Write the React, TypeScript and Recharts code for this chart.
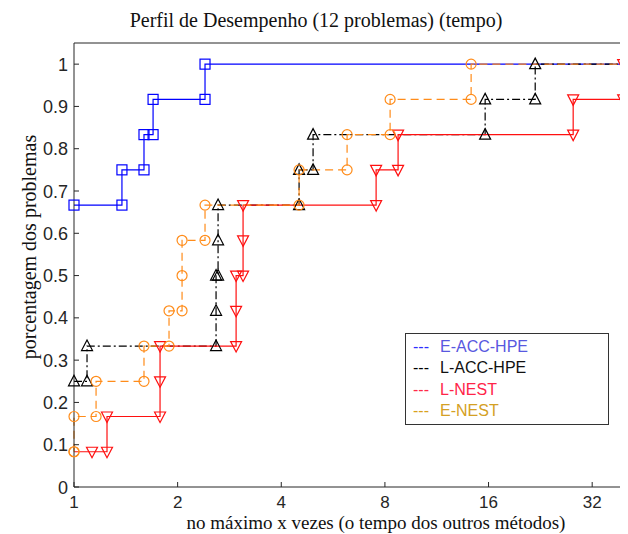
import React from 'react';
import { LineChart, Line, XAxis, YAxis } from 'recharts';

// ---------- data ----------
const NP = 12; // number of problems
const X_MAX_LOG2 = 5.5; // right end of the x axis (log2 of ratio)
const xTickValues = [1, 2, 4, 8, 16, 32];
const yTickValues = [0, 0.1, 0.2, 0.3, 0.4, 0.5, 0.6, 0.7, 0.8, 0.9, 1];

const seriesNames = ['E-ACC-HPE', 'L-ACC-HPE', 'L-NEST', 'E-NEST'];

// performance ratios where each profile steps, and problems solved after the step
const eAccHpeRatios = [1, 1.378, 1.597, 1.697, 2.402];
const eAccHpeSolved = [8, 9, 10, 11, 12];

const lAccHpeRatios = [1, 1.091, 2.586, 2.621, 4.506, 4.948, 15.64, 21.86];
const lAccHpeSolved = [3, 4, 6, 8, 9, 10, 11, 12];

const lNestRatios = [1, 1.128, 1.247, 1.778, 2.957, 3.098, 7.543, 8.737, 28.18, 39.37];
const lNestSolved = [1, 1, 2, 4, 6, 8, 9, 10, 11, 12];

const eNestRatios = [1, 1, 1.159, 1.597, 1.888, 2.06, 2.402, 4.506, 6.212, 8.283, 14.24];
const eNestSolved = [1, 2, 3, 4, 5, 7, 8, 9, 10, 11, 12];

// ---------- build stairs tables ----------
type Pt = { x: number; y: number; mark: boolean };

function buildProfile(ratios: number[], solved: number[], hideFirst = false): Pt[] {
  const pts: Pt[] = [];
  let prev = 0;
  ratios.forEach((r, i) => {
    const x = Math.log2(r);
    const c = solved[i];
    if (i === 0) {
      pts.push({ x, y: c / NP, mark: !hideFirst });
    } else {
      pts.push({ x, y: prev / NP, mark: true });
      for (let k = prev + 1; k <= c; k++) pts.push({ x, y: k / NP, mark: true });
    }
    prev = c;
  });
  pts.push({ x: X_MAX_LOG2, y: prev / NP, mark: false });
  return pts;
}

const eAccHpeData = buildProfile(eAccHpeRatios, eAccHpeSolved);
const lAccHpeData = buildProfile(lAccHpeRatios, lAccHpeSolved);
const lNestData = buildProfile(lNestRatios, lNestSolved, true);
const eNestData = buildProfile(eNestRatios, eNestSolved);

// ---------- styles ----------
const AXIS = '#262626';
const SANS = '"Liberation Sans", Arial, sans-serif';
const SERIF = '"Liberation Serif", "Times New Roman", serif';

const C_BLUE = '#0000ff';
const C_BLACK = '#000000';
const C_RED = '#ff1010';
const C_ORANGE = '#ff8c1a';

type Shape = 'square' | 'up' | 'down' | 'circle';

function makeDot(shape: Shape, color: string) {
  return (props: any) => {
    const { cx, cy, payload, index } = props;
    if (!payload || !payload.mark || cx == null || cy == null) return <g key={`d${index}`} />;
    const common = { fill: 'none', stroke: color, strokeWidth: 1.2 };
    if (shape === 'square')
      return <rect key={`d${index}`} x={cx - 5} y={cy - 5} width={10} height={10} {...common} />;
    if (shape === 'circle') return <circle key={`d${index}`} cx={cx} cy={cy} r={5} {...common} />;
    if (shape === 'up')
      return (
        <polygon
          key={`d${index}`}
          points={`${cx},${cy - 6} ${cx - 5.5},${cy + 4.5} ${cx + 5.5},${cy + 4.5}`}
          {...common}
        />
      );
    return (
      <polygon
        key={`d${index}`}
        points={`${cx},${cy + 6} ${cx - 5.5},${cy - 4.5} ${cx + 5.5},${cy - 4.5}`}
        {...common}
      />
    );
  };
}

function BottomTick(props: any) {
  const { x, y, payload } = props;
  const label = String(Math.round(Math.pow(2, payload.value)));
  return (
    <g>
      <line x1={x} y1={y} x2={x} y2={y - 5} stroke={AXIS} strokeWidth={1} />
      <text x={x} y={y + 21} textAnchor="middle" fontFamily={SANS} fontSize={17} fill={AXIS}>
        {label}
      </text>
    </g>
  );
}

function TopTick(props: any) {
  const { x, y } = props;
  return <line x1={x} y1={y} x2={x} y2={y + 5} stroke={AXIS} strokeWidth={1} />;
}

function LeftTick(props: any) {
  const { x, y, payload } = props;
  const v = payload.value;
  const label = v === 0 ? '0' : v === 1 ? '1' : v.toFixed(1);
  return (
    <g>
      <line x1={x} y1={y} x2={x + 5} y2={y} stroke={AXIS} strokeWidth={1} />
      <text x={x - 6} y={y + 6.5} textAnchor="end" fontFamily={SANS} fontSize={18} fill={AXIS}>
        {label}
      </text>
    </g>
  );
}

const legendItems = [
  { name: seriesNames[0], dash: '#2e2eff', text: '#5858e0' },
  { name: seriesNames[1], dash: '#000000', text: '#111111' },
  { name: seriesNames[2], dash: '#ff2a4a', text: '#ff2448' },
  { name: seriesNames[3], dash: '#d9a21c', text: '#d4a024' },
];

const titleStyle: React.CSSProperties = {
  position: 'absolute',
  whiteSpace: 'nowrap',
  fontFamily: SERIF,
  fontSize: 20,
  lineHeight: '17px',
  color: '#111',
};

export default function App() {
  return (
    <div style={{ position: 'relative', width: 620, height: 526, overflow: 'hidden', background: '#fff' }}>
      <LineChart width={640} height={526} margin={{ top: 5, right: 4, bottom: 7, left: 26 }}>
        <XAxis
          xAxisId={0}
          dataKey="x"
          type="number"
          domain={[0, X_MAX_LOG2]}
          ticks={xTickValues.map((v) => Math.log2(v))}
          tick={<BottomTick />}
          tickLine={false}
          tickSize={0}
          tickMargin={0}
          height={40}
          axisLine={{ stroke: AXIS, strokeWidth: 1 }}
          interval={0}
        />
        <XAxis
          xAxisId="top"
          orientation="top"
          dataKey="x"
          type="number"
          domain={[0, X_MAX_LOG2]}
          ticks={xTickValues.map((v) => Math.log2(v))}
          tick={<TopTick />}
          tickLine={false}
          tickSize={0}
          tickMargin={0}
          height={30}
          axisLine={{ stroke: AXIS, strokeWidth: 1 }}
          interval={0}
        />
        <YAxis
          type="number"
          domain={[0, 1.05]}
          ticks={yTickValues}
          tick={<LeftTick />}
          tickLine={false}
          tickSize={0}
          tickMargin={0}
          width={40}
          axisLine={{ stroke: AXIS, strokeWidth: 1 }}
          interval={0}
        />
        <Line
          data={eAccHpeData}
          dataKey="y"
          name={seriesNames[0]}
          type="linear"
          stroke={C_BLUE}
          strokeWidth={1.2}
          dot={makeDot('square', C_BLUE)}
          activeDot={false}
          isAnimationActive={false}
        />
        <Line
          data={lAccHpeData}
          dataKey="y"
          name={seriesNames[1]}
          type="linear"
          stroke={C_BLACK}
          strokeWidth={1.2}
          strokeDasharray="8 3 2 3"
          dot={makeDot('up', C_BLACK)}
          activeDot={false}
          isAnimationActive={false}
        />
        <Line
          data={lNestData}
          dataKey="y"
          name={seriesNames[2]}
          type="linear"
          stroke={C_RED}
          strokeWidth={1.2}
          dot={makeDot('down', C_RED)}
          activeDot={false}
          isAnimationActive={false}
        />
        <Line
          data={eNestData}
          dataKey="y"
          name={seriesNames[3]}
          type="linear"
          stroke={C_ORANGE}
          strokeWidth={1.2}
          strokeDasharray="8 5"
          dot={makeDot('circle', C_ORANGE)}
          activeDot={false}
          isAnimationActive={false}
        />
      </LineChart>

      {/* title */}
      <div style={{ ...titleStyle, left: 308, top: 4, transform: 'translateX(-50%)' }}>
        Perfil de Desempenho (12 problemas) (tempo)
      </div>

      {/* x axis title */}
      <div
        style={{
          ...titleStyle,
          fontSize: 19,
          lineHeight: '16px',
          left: 368,
          top: 507,
          transform: 'translateX(-50%)',
        }}
      >
        no máximo x vezes (o tempo dos outros métodos)
      </div>

      {/* y axis title */}
      <div
        style={{
          ...titleStyle,
          left: 21,
          top: 239,
          transform: 'translate(-50%, -50%) rotate(-90deg)',
        }}
      >
        porcentagem dos problemas
      </div>

      {/* legend */}
      <div
        style={{
          position: 'absolute',
          left: 397,
          top: 325,
          width: 202,
          height: 88,
          border: '1px solid #333',
          background: '#fff',
          fontFamily: SANS,
          fontSize: 16,
          lineHeight: '21.3px',
          paddingTop: 2,
          boxSizing: 'content-box',
        }}
      >
        {legendItems.map((it) => (
          <div key={it.name} style={{ whiteSpace: 'nowrap', paddingLeft: 7 }}>
            <span style={{ display: 'inline-block', width: 27, color: it.dash }}>---</span>
            <span style={{ color: it.text }}>{it.name}</span>
          </div>
        ))}
      </div>
    </div>
  );
}
